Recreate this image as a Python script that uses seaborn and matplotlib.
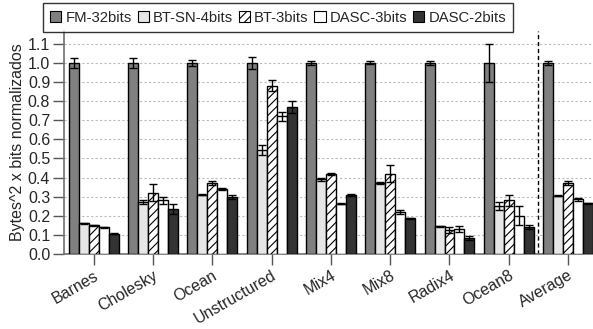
import pandas as pd
import seaborn as sns
import matplotlib.pyplot as plt

categories = ["Barnes", "Cholesky", "Ocean", "Unstructured", "Mix4", "Mix8", "Radix4", "Ocean8", "Average"]
series = ["FM-32bits", "BT-SN-4bits", "BT-3bits", "DASC-3bits", "DASC-2bits"]

fm32 = [1.0, 1.0, 1.0, 1.0, 1.0, 1.0, 1.0, 1.0, 1.0]
fm32_err = [0.025, 0.025, 0.015, 0.03, 0.012, 0.008, 0.012, 0.1, 0.012]
btsn4 = [0.16, 0.27, 0.31, 0.545, 0.39, 0.37, 0.145, 0.25, 0.305]
btsn4_err = [0.003, 0.01, 0.004, 0.025, 0.008, 0.006, 0.002, 0.02, 0.003]
bt3 = [0.15, 0.32, 0.37, 0.88, 0.42, 0.42, 0.125, 0.28, 0.37]
bt3_err = [0.003, 0.045, 0.01, 0.03, 0.005, 0.045, 0.015, 0.03, 0.01]
dasc3 = [0.14, 0.28, 0.34, 0.72, 0.264, 0.22, 0.13, 0.20, 0.285]
dasc3_err = [0.003, 0.02, 0.003, 0.025, 0.003, 0.01, 0.015, 0.05, 0.008]
dasc2 = [0.105, 0.235, 0.30, 0.77, 0.307, 0.186, 0.085, 0.14, 0.265]
dasc2_err = [0.003, 0.025, 0.01, 0.03, 0.005, 0.002, 0.01, 0.01, 0.004]

values = [fm32, btsn4, bt3, dasc3, dasc2]
errors = [fm32_err, btsn4_err, bt3_err, dasc3_err, dasc2_err]
colors = ["#808080", "#e6e6e6", "#ffffff", "#ffffff", "#333333"]
hatches = ["", "", "////", "", ""]

rows = []
for s, vals, errs in zip(series, values, errors):
    for c, v, e in zip(categories, vals, errs):
        rows.append({"bench": c, "config": s, "value": v, "err": e})
df = pd.DataFrame(rows)

sns.set_style("white")
plt.rcParams["font.family"] = ["Liberation Sans", "DejaVu Sans"]
plt.rcParams["hatch.linewidth"] = 0.8

fig, ax = plt.subplots(figsize=(5.93, 3.29), dpi=100)
sns.barplot(data=df, x="bench", y="value", hue="config", order=categories,
            hue_order=series, palette=colors, width=0.84, errorbar=None,
            edgecolor="black", linewidth=1.0, ax=ax, zorder=3)

# hatch + error bars per series
bar_groups = list(ax.containers)
for i, cont in enumerate(bar_groups):
    for bar, e in zip(cont, errors[i]):
        bar.set_hatch(hatches[i])
        bar.set_facecolor(colors[i])
        bar.set_edgecolor("black")
        xc = bar.get_x() + bar.get_width() / 2
        ax.errorbar(xc, bar.get_height(), yerr=e, color="black", capsize=3,
                    elinewidth=1, capthick=1, zorder=4)

ax.axvline(7.5, color="black", linestyle=(0, (3, 2)), linewidth=1, zorder=2)

ax.set_ylim(0, 1.165)
ax.set_xlim(-0.5, 8.42)
ax.set_yticks([i / 10 for i in range(12)])
ax.set_yticklabels(["0.0", "0.1", "0.2", "0.3", "0.4", "0.5", "0.6", "0.7", "0.8", "0.9", "1.0", "1.1"])
ax.yaxis.grid(True, color="#bbbbbb", linestyle=(0, (2, 2)), linewidth=0.8, zorder=0)
ax.set_axisbelow(True)
ax.set_xlabel("")
ax.set_ylabel("Bytes^2 x bits normalizados", fontsize=11.5, labelpad=2)
ax.tick_params(axis="both", direction="out", length=8, width=1, labelsize=11.5,
               left=True, bottom=True, color="#555555", pad=2)
plt.setp(ax.get_xticklabels(), rotation=30, ha="right", rotation_mode="anchor")
for s in ["top", "right"]:
    ax.spines[s].set_visible(False)
for s in ["left", "bottom"]:
    ax.spines[s].set_color("#707070")
    ax.spines[s].set_linewidth(1.2)

ax.get_legend().remove()
handles = [plt.Rectangle((0, 0), 1, 1, facecolor=c, edgecolor="black", hatch=h, linewidth=0.8)
           for c, h in zip(colors, hatches)]
leg = fig.legend(handles, series, loc="upper center", bbox_to_anchor=(0.469, 0.99), ncol=5,
                 frameon=True, fancybox=False, edgecolor="black", fontsize=10.7,
                 handlelength=0.75, handleheight=0.75, handletextpad=0.27, columnspacing=0.4,
                 borderpad=0.5, borderaxespad=0)
leg.get_frame().set_linewidth(1)

fig.subplots_adjust(left=0.108, right=1.0, top=0.905, bottom=0.228)
fig.savefig("out.png", dpi=100)
